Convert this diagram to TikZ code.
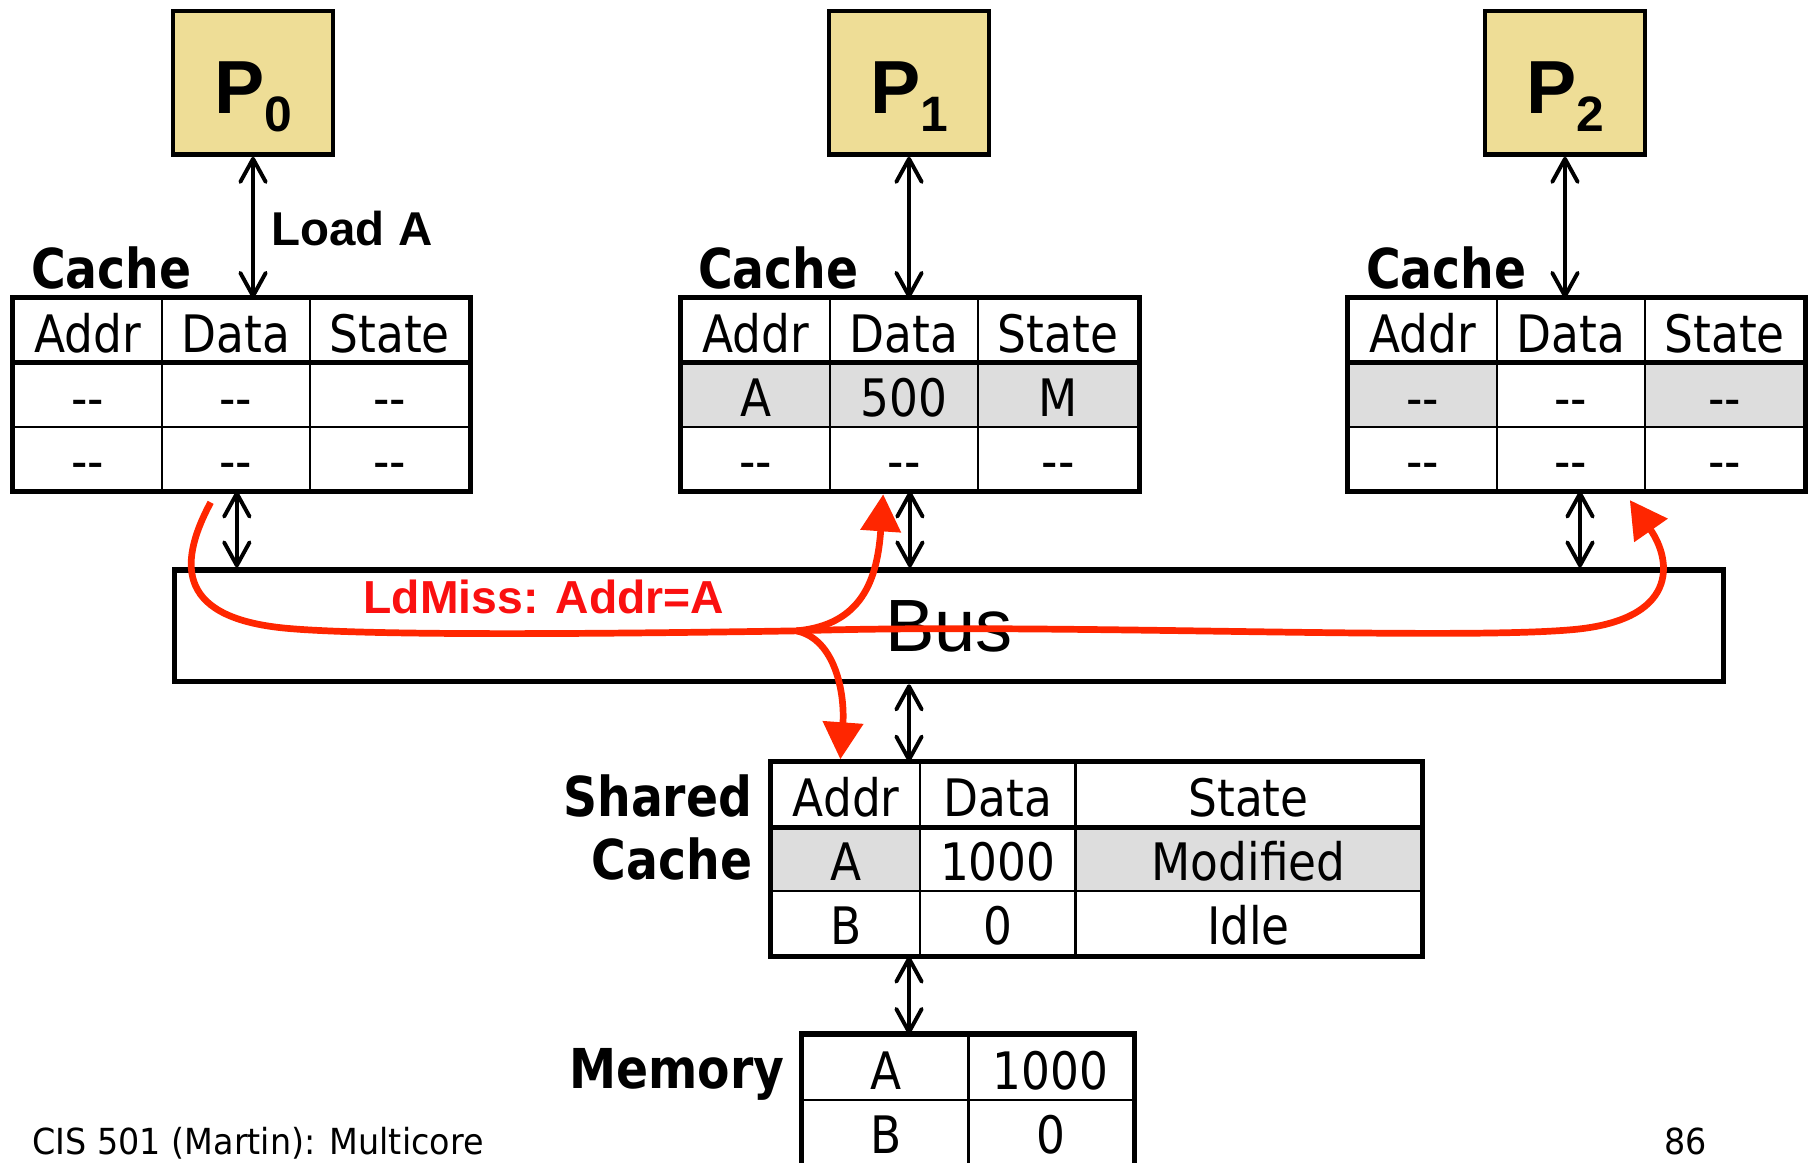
\documentclass[tikz,border=0pt]{standalone}
\usepackage{fontspec}
\usepackage{xcolor}
\usepackage{tikz}
\usetikzlibrary{arrows.meta, matrix}
\newfontfamily\tabfont[FakeStretch=0.88]{DejaVu Sans}
\newfontfamily\labfont[FakeStretch=0.86]{DejaVu Sans}
\newfontfamily\footfont[FakeStretch=0.93]{DejaVu Sans}
\newfontfamily\hvfont{Liberation Sans}
\definecolor{proctan}{RGB}{238,221,150}
\definecolor{cellgray}{RGB}{221,221,221}
\definecolor{missred}{RGB}{255,38,0}
\definecolor{misstext}{RGB}{250,16,16}
\newcommand\emptyslot{\mbox{-}\mbox{-}}
\newcommand\procname[1]{P\raisebox{-16pt}{\fontsize{43}{45}\selectfont #1}}

\begin{document}
\begin{tikzpicture}[x=1pt, y=-1pt, every node/.style={inner sep=0pt}]
    % Define styles
    \tikzstyle{proc} = [rectangle, draw=black, line width=4pt, fill=proctan, minimum width=138pt, minimum height=124pt, text height=68.8pt, text depth=16pt, font=\hvfont\bfseries\fontsize{65}{70}\selectfont]
    \tikzstyle{tabcell} = [rectangle, draw=black, line width=1.8pt, minimum height=55pt, outer sep=0pt, text height=37pt, text depth=0pt, font=\tabfont\fontsize{44.6}{50}\selectfont]
    \tikzstyle{cachetab} = [matrix of nodes, inner sep=0pt, column sep=-1.8pt, row sep=-1.8pt, nodes={tabcell}, column 1/.style={nodes={minimum width=128pt}}, column 2/.style={nodes={minimum width=128pt}}, column 3/.style={nodes={minimum width=138pt}}]
    \tikzstyle{frame} = [line width=4.4pt, line cap=rect]
    \tikzstyle{busbox} = [rectangle, draw=black, line width=4.4pt, minimum width=1338pt, minimum height=96.6pt, font=\hvfont\fontsize{64}{70}\selectfont]
    \tikzstyle{tablabel} = [font=\labfont\bfseries\fontsize{47.5}{54.7}\selectfont]
    \tikzstyle{footer} = [font=\footfont\fontsize{31}{34}\selectfont]
    \tikzstyle{duplex} = [line width=3.4pt, {Straight Barb[length=20pt,width=22pt,round]}-{Straight Barb[length=20pt,width=22pt,round]}]
    \tikzstyle{missline} = [line width=5.8pt, draw=missred]
    \tikzstyle{misstip} = [line width=5.8pt, draw=missred, -{Triangle[length=32pt,width=34pt]}]
    \useasboundingbox (0,0) rectangle (1568,1004);

    % Processors
    \node (p0) [proc] at (218.6,71.5) {\procname{0}};
    \node (p1) [proc] at (785.3,71.5) {\procname{1}};
    \node (p2) [proc] at (1352,71.5) {\procname{2}};

    % Private caches
    \matrix (cache0) [cachetab, anchor=north west] at (10.5,257.4) {
        Addr & Data & State \\
        \emptyslot & \emptyslot & \emptyslot \\
        \emptyslot & \emptyslot & \emptyslot \\
    };
    \matrix (cache1) [cachetab, anchor=north west] at (588,257.4) {
        Addr & Data & State \\
        |[fill=cellgray]| A & |[fill=cellgray]| 500 & |[fill=cellgray]| M \\
        \emptyslot & \emptyslot & \emptyslot \\
    };
    \matrix (cache2) [cachetab, anchor=north west] at (1163.9,257.4) {
        Addr & Data & State \\
        |[fill=cellgray]| \emptyslot & \emptyslot & |[fill=cellgray]| \emptyslot \\
        \emptyslot & \emptyslot & \emptyslot \\
    };
    \node (lab0) [tablabel, anchor=base west] at (26.6,249.5) {Cache};
    \node (lab1) [tablabel, anchor=base west] at (603,249.5) {Cache};
    \node (lab2) [tablabel, anchor=base west] at (1180,249.5) {Cache};

    % Bus
    \node (bus) [busbox] at (820,540.7) {Bus};

    % Shared cache and memory
    \matrix (shared) [cachetab, anchor=north west, nodes={minimum height=55.4pt}, column 2/.style={nodes={minimum width=134pt}}, column 3/.style={nodes={minimum width=299pt}}] at (666,658) {
        Addr & Data & State \\
        |[fill=cellgray]| A & 1000 & |[fill=cellgray]| Modified \\
        B & 0 & Idle \\
    };
    \matrix (memory) [cachetab, anchor=north west, nodes={minimum height=56pt}, column 1/.style={nodes={minimum width=143pt}}, column 2/.style={nodes={minimum width=142pt}}] at (692.6,893.3) {
        A & 1000 \\
        B & 0 \\
    };
    \node (sharedlab) [tablabel, align=right, anchor=east] at (650,715) {Shared\\Cache};
    \node (memlab) [tablabel, anchor=base east] at (678,940) {Memory};

    % Thick table frames
    \foreach \t in {cache0, cache1, cache2, shared, memory}
        \draw [frame] (\t.north west) rectangle (\t.south east);
    \draw [frame] (cache0-1-1.south west) -- (cache0-1-3.south east);
    \draw [frame] (cache1-1-1.south west) -- (cache1-1-3.south east);
    \draw [frame] (cache2-1-1.south west) -- (cache2-1-3.south east);
    \draw [frame] (shared-1-1.south west) -- (shared-1-3.south east);

    % Processor <-> cache
    \draw [duplex] (p0.south) -- (p0.south |- cache0.north);
    \draw [duplex] (p1.south) -- (p1.south |- cache1.north);
    \draw [duplex] (p2.south) -- (p2.south |- cache2.north);
    \node (load) [font=\hvfont\bfseries\fontsize{41}{45}\selectfont, anchor=base west] at (234.4,211.7) {Load A};

    % Cache <-> bus <-> shared cache <-> memory
    \draw [duplex] ([xshift=-4pt]cache0.south) -- ([xshift=-4pt]cache0.south |- bus.north);
    \draw [duplex] (cache1.south) -- (cache1.south |- bus.north);
    \draw [duplex] ([xshift=3pt]cache2.south) -- ([xshift=3pt]cache2.south |- bus.north);
    \draw [duplex] (p1.south |- bus.south) -- (p1.south |- shared.north);
    \draw [duplex] (p1.south |- shared.south) -- (p1.south |- memory.north);

    % Load miss broadcast
    \coordinate (miss) at (182,434);
    \coordinate (fork) at (688,545);
    \coordinate (hit1) at (763,427);
    \coordinate (hit2) at (1408,432);
    \coordinate (hitsh) at (726,656);
    \draw [missline] (miss) .. controls (152,490) and (155,535) .. (250,543) .. controls (320,549) and (500,548) .. (fork);
    \draw [misstip] (fork) .. controls (745,540) and (758,500) .. (hit1);
    \draw [misstip] (fork) .. controls (722,552) and (730,600) .. (hitsh);
    \draw [misstip] (fork) .. controls (900,538) and (1250,553.5) .. (1358,544) .. controls (1450,536) and (1445,485) .. (hit2);
    \node (ldmiss) [font=\hvfont\bfseries\fontsize{40}{44}\selectfont, text=misstext, anchor=base west] at (314,530) {LdMiss: Addr=A};

    % Footer
    \node (course) [footer, anchor=base west] at (28,997) {CIS 501 (Martin): Multicore};
    \node (page) [footer, anchor=base] at (1456.5,997) {86};
\end{tikzpicture}
\end{document}
